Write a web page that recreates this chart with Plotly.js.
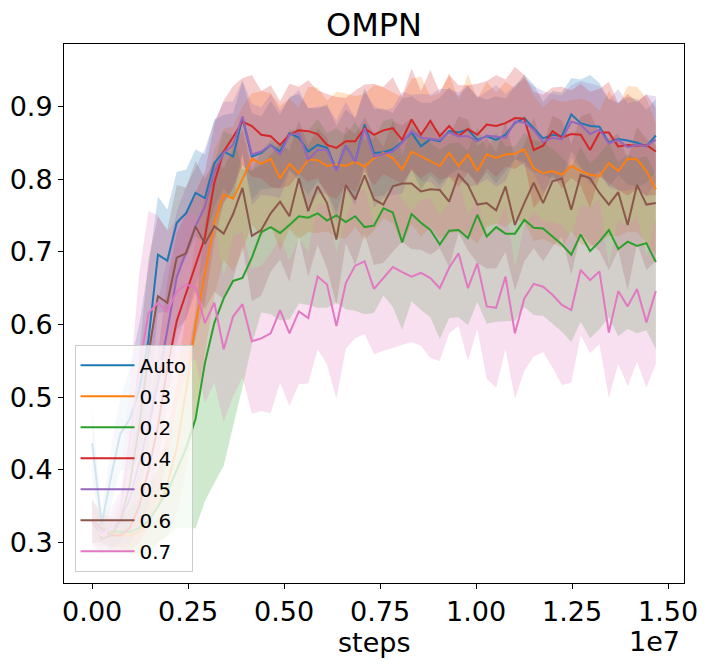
<!DOCTYPE html>
<html>
<head>
<meta charset="utf-8">
<script src="https://cdn.plot.ly/plotly-3.0.1.min.js"></script>
<style>
html,body{margin:0;padding:0;background:#fff;}
#chart{width:707px;height:664px;}
</style>
</head>
<body>
<div id="chart"></div>
<script>
// ---------- data ----------
const steps = [0,244700,489400,734100,978800,1223500,1468200,1712900,1957600,2202300,
  2447000,2691700,2936400,3181100,3425800,3670500,3915200,4159900,4404600,4649300,
  4894000,5138700,5383400,5628100,5872800,6117500,6362200,6606900,6851600,7096300,
  7341000,7585700,7830400,8075100,8319800,8564500,8809200,9053900,9298600,9543300,
  9788000,10032700,10277400,10522100,10766800,11011500,11256200,11500900,11745600,11990300,
  12235000,12479700,12724400,12969100,13213800,13458500,13703200,13947900,14192600,14437300,
  14682000];

const seriesNames = ['Auto','0.3','0.2','0.4','0.5','0.6','0.7'];

const autoMean = [0.437,0.325,0.39,0.45,0.47,0.51,0.58,0.696,0.688,0.740,
  0.753,0.781,0.774,0.822,0.838,0.831,0.884,0.831,0.836,0.847,
  0.838,0.863,0.857,0.838,0.847,0.843,0.813,0.846,0.824,0.875,
  0.836,0.837,0.841,0.851,0.864,0.845,0.855,0.852,0.866,0.864,
  0.868,0.854,0.859,0.854,0.861,0.877,0.884,0.870,0.856,0.861,
  0.859,0.889,0.877,0.873,0.872,0.850,0.855,0.853,0.850,0.845,
  0.860];
const autoSd = [0.05,0.02,0.04,0.05,0.07,0.09,0.10,0.08,0.07,0.07,
  0.06,0.06,0.06,0.06,0.05,0.06,0.05,0.06,0.05,0.06,
  0.05,0.05,0.06,0.06,0.05,0.06,0.06,0.05,0.06,0.05,
  0.06,0.06,0.05,0.06,0.05,0.06,0.05,0.06,0.06,0.05,
  0.06,0.06,0.05,0.06,0.05,0.05,0.06,0.06,0.05,0.06,
  0.06,0.05,0.06,0.07,0.06,0.06,0.05,0.06,0.06,0.05,
  0.05];

const p03Mean = [0.33,0.32,0.315,0.31,0.31,0.315,0.33,0.35,0.38,0.43,
  0.51,0.60,0.670,0.740,0.779,0.773,0.800,0.828,0.821,0.828,
  0.801,0.821,0.808,0.827,0.826,0.818,0.820,0.818,0.824,0.817,
  0.829,0.836,0.829,0.813,0.838,0.831,0.824,0.818,0.836,0.818,
  0.834,0.811,0.834,0.829,0.834,0.835,0.841,0.815,0.808,0.811,
  0.806,0.818,0.811,0.806,0.804,0.822,0.811,0.828,0.827,0.811,
  0.786];
const p03Sd = [0.03,0.02,0.02,0.02,0.02,0.03,0.04,0.05,0.07,0.09,
  0.11,0.12,0.11,0.10,0.09,0.10,0.10,0.09,0.10,0.09,
  0.10,0.09,0.09,0.10,0.10,0.09,0.10,0.10,0.09,0.10,
  0.10,0.09,0.09,0.10,0.10,0.11,0.09,0.10,0.11,0.09,
  0.11,0.10,0.10,0.09,0.10,0.09,0.10,0.10,0.09,0.10,
  0.10,0.09,0.10,0.10,0.09,0.10,0.09,0.10,0.10,0.10,
  0.09];

const p02Mean = [0.33,0.32,0.315,0.315,0.315,0.32,0.33,0.35,0.37,0.40,
  0.43,0.47,0.547,0.602,0.636,0.660,0.664,0.692,0.727,0.734,
  0.726,0.737,0.749,0.747,0.753,0.743,0.750,0.741,0.749,0.734,
  0.736,0.760,0.754,0.713,0.752,0.740,0.730,0.710,0.729,0.730,
  0.719,0.751,0.721,0.734,0.725,0.725,0.744,0.733,0.732,0.721,
  0.710,0.696,0.724,0.701,0.714,0.730,0.704,0.714,0.708,0.712,
  0.686];
const p02Sd = [0.03,0.02,0.02,0.02,0.03,0.04,0.05,0.05,0.06,0.08,
  0.11,0.15,0.19,0.22,0.23,0.20,0.15,0.12,0.11,0.12,
  0.12,0.13,0.12,0.12,0.13,0.12,0.12,0.12,0.13,0.12,
  0.12,0.12,0.13,0.12,0.12,0.12,0.12,0.13,0.12,0.12,
  0.12,0.12,0.12,0.13,0.12,0.12,0.12,0.12,0.12,0.12,
  0.12,0.12,0.12,0.12,0.12,0.12,0.12,0.12,0.12,0.12,
  0.12];

const p04Mean = [0.33,0.32,0.31,0.31,0.32,0.35,0.40,0.46,0.54,0.605,
  0.643,0.682,0.72,0.795,0.838,0.858,0.879,0.873,0.861,0.859,
  0.847,0.861,0.867,0.866,0.862,0.847,0.843,0.852,0.852,0.870,
  0.861,0.867,0.870,0.854,0.882,0.861,0.880,0.859,0.873,0.859,
  0.869,0.861,0.875,0.873,0.877,0.884,0.883,0.840,0.846,0.866,
  0.857,0.862,0.861,0.840,0.864,0.864,0.845,0.847,0.846,0.847,
  0.838];
const p04Sd = [0.03,0.02,0.02,0.02,0.03,0.05,0.08,0.10,0.12,0.12,
  0.11,0.10,0.09,0.08,0.07,0.07,0.06,0.07,0.06,0.07,
  0.06,0.07,0.06,0.07,0.06,0.07,0.07,0.06,0.07,0.06,
  0.07,0.06,0.07,0.06,0.07,0.06,0.07,0.06,0.07,0.07,
  0.06,0.07,0.06,0.07,0.06,0.07,0.06,0.08,0.07,0.06,
  0.07,0.06,0.07,0.08,0.06,0.07,0.06,0.07,0.06,0.07,
  0.06];

const p05Mean = [0.33,0.315,0.32,0.33,0.36,0.41,0.46,0.52,0.592,0.665,
  0.700,0.735,0.762,0.810,0.836,0.847,0.886,0.834,0.838,0.847,
  0.834,0.861,0.863,0.827,0.840,0.840,0.811,0.846,0.824,0.870,
  0.831,0.834,0.838,0.850,0.866,0.857,0.856,0.854,0.864,0.859,
  0.859,0.852,0.860,0.859,0.857,0.879,0.878,0.868,0.851,0.857,
  0.855,0.879,0.875,0.862,0.868,0.849,0.854,0.844,0.847,0.846,
  0.854];
const p05Sd = [0.03,0.02,0.03,0.04,0.06,0.09,0.11,0.11,0.10,0.09,
  0.09,0.08,0.08,0.07,0.07,0.06,0.05,0.07,0.06,0.07,
  0.06,0.05,0.06,0.07,0.06,0.06,0.07,0.06,0.06,0.05,
  0.07,0.06,0.06,0.07,0.05,0.06,0.06,0.07,0.06,0.06,
  0.07,0.06,0.06,0.07,0.06,0.05,0.06,0.06,0.07,0.06,
  0.06,0.05,0.06,0.07,0.06,0.06,0.07,0.06,0.06,0.07,
  0.06];

const p06Mean = [0.33,0.305,0.31,0.33,0.38,0.46,0.56,0.639,0.630,0.692,
  0.698,0.735,0.711,0.735,0.725,0.752,0.788,0.722,0.730,0.753,
  0.769,0.749,0.801,0.756,0.790,0.767,0.717,0.792,0.772,0.805,
  0.772,0.765,0.790,0.794,0.794,0.783,0.786,0.785,0.769,0.806,
  0.792,0.765,0.767,0.757,0.790,0.737,0.767,0.795,0.767,0.797,
  0.801,0.758,0.806,0.801,0.781,0.765,0.782,0.737,0.792,0.765,
  0.767];
const p06Sd = [0.03,0.02,0.02,0.03,0.06,0.10,0.13,0.11,0.10,0.10,
  0.09,0.09,0.09,0.09,0.09,0.09,0.08,0.09,0.09,0.08,
  0.08,0.09,0.08,0.09,0.08,0.09,0.09,0.08,0.09,0.08,
  0.09,0.08,0.09,0.08,0.09,0.08,0.09,0.08,0.09,0.08,
  0.09,0.08,0.09,0.08,0.09,0.09,0.08,0.09,0.08,0.09,
  0.08,0.09,0.08,0.09,0.08,0.09,0.08,0.09,0.08,0.09,
  0.08];

const p07Mean = [0.32,0.31,0.32,0.34,0.44,0.54,0.616,0.630,0.618,0.645,
  0.655,0.651,0.602,0.630,0.566,0.611,0.628,0.577,0.581,0.588,
  0.620,0.588,0.618,0.609,0.666,0.655,0.598,0.657,0.681,0.687,
  0.649,0.664,0.679,0.672,0.666,0.671,0.664,0.650,0.678,0.698,
  0.650,0.684,0.625,0.623,0.666,0.588,0.636,0.656,0.652,0.641,
  0.627,0.620,0.675,0.661,0.673,0.589,0.646,0.625,0.649,0.603,
  0.646];
const p07Sd = [0.03,0.02,0.02,0.03,0.08,0.13,0.14,0.12,0.11,0.10,
  0.10,0.10,0.11,0.11,0.10,0.11,0.10,0.10,0.10,0.11,
  0.10,0.10,0.10,0.09,0.10,0.11,0.10,0.09,0.10,0.10,
  0.09,0.10,0.11,0.10,0.09,0.10,0.11,0.10,0.09,0.10,
  0.10,0.09,0.10,0.11,0.10,0.09,0.10,0.10,0.09,0.10,
  0.11,0.10,0.09,0.10,0.10,0.09,0.10,0.11,0.10,0.09,
  0.10];

const xTickVals = [0, 2500000, 5000000, 7500000, 10000000, 12500000, 15000000];
const xTickText = ['0.00','0.25','0.50','0.75','1.00','1.25','1.50'];
const yTickVals = [0.3,0.4,0.5,0.6,0.7,0.8,0.9];
const yTickText = ['0.3','0.4','0.5','0.6','0.7','0.8','0.9'];

// ---------- styles ----------
const means = [autoMean,p03Mean,p02Mean,p04Mean,p05Mean,p06Mean,p07Mean];
const sds = [autoSd,p03Sd,p02Sd,p04Sd,p05Sd,p06Sd,p07Sd];
const colors = [[31,119,180],[255,127,14],[44,160,44],[214,39,40],[148,103,189],[140,86,75],[227,119,194]];
const FILL_ALPHA = 0.23;
const FONT = 'DejaVu Sans, Liberation Sans, sans-serif';

const traces = [];
for (let k = 0; k < seriesNames.length; k++) {
  const m = means[k], s = sds[k];
  const upper = m.map((v,i)=>v + s[i]);
  const lower = m.map((v,i)=>v - s[i]);
  const c = colors[k];
  traces.push({
    x: steps.concat(steps.slice().reverse()),
    y: upper.concat(lower.slice().reverse()),
    type: 'scatter', mode: 'lines', fill: 'toself',
    fillcolor: `rgba(${c[0]},${c[1]},${c[2]},${FILL_ALPHA})`,
    line: {width: 0, color: 'rgba(0,0,0,0)'},
    hoverinfo: 'skip', showlegend: false
  });
}
for (let k = 0; k < seriesNames.length; k++) {
  const c = colors[k];
  traces.push({
    x: steps, y: means[k], type: 'scatter', mode: 'lines',
    name: seriesNames[k], legendgroup: seriesNames[k],
    line: {width: 2, color: `rgb(${c[0]},${c[1]},${c[2]})`}
  });
}

const layout = {
  width: 707, height: 664,
  margin: {l: 64, r: 23, t: 44, b: 81, pad: 0},
  paper_bgcolor: '#fff', plot_bgcolor: '#fff',
  font: {family: FONT, color: '#000', size: 20},
  title: {text: 'OMPN', font: {family: FONT, size: 32, color: '#000'},
          x: 0.5, xref: 'paper', xanchor: 'center', y: 0.962, yref: 'container', yanchor: 'middle'},
  xaxis: {
    range: [-734100, 15416100], showgrid: false, zeroline: false,
    showline: true, mirror: true, linecolor: '#000', linewidth: 1,
    ticks: 'outside', ticklen: 5, tickwidth: 1, tickcolor: '#000',
    tickvals: xTickVals, ticktext: xTickText,
    tickfont: {family: FONT, size: 27, color: '#000'}
  },
  yaxis: {
    range: [0.2446, 0.9858], showgrid: false, zeroline: false,
    showline: true, mirror: true, linecolor: '#000', linewidth: 1,
    ticks: 'outside', ticklen: 5, tickwidth: 1, tickcolor: '#000',
    tickvals: yTickVals, ticktext: yTickText,
    tickfont: {family: FONT, size: 27, color: '#000'}
  },
  legend: {
    x: 0.017, y: 0.021, xanchor: 'left', yanchor: 'bottom',
    bgcolor: 'rgba(255,255,255,0.8)', bordercolor: '#cccccc', borderwidth: 1,
    font: {family: FONT, size: 20, color: '#000'},
    traceorder: 'grouped', tracegroupgap: 2, itemwidth: 54
  },
  annotations: [
    {text: 'steps', xref: 'paper', yref: 'paper', x: 0.5, y: -0.11, xanchor: 'center', yanchor: 'middle',
     showarrow: false, font: {family: FONT, size: 27, color: '#000'}},
    {text: '1e7', xref: 'paper', yref: 'paper', x: 0.997, y: -0.108, xanchor: 'right', yanchor: 'middle',
     showarrow: false, font: {family: FONT, size: 27, color: '#000'}}
  ]
};

Plotly.newPlot('chart', traces, layout, {staticPlot: true, displayModeBar: false});
</script>
</body>
</html>
